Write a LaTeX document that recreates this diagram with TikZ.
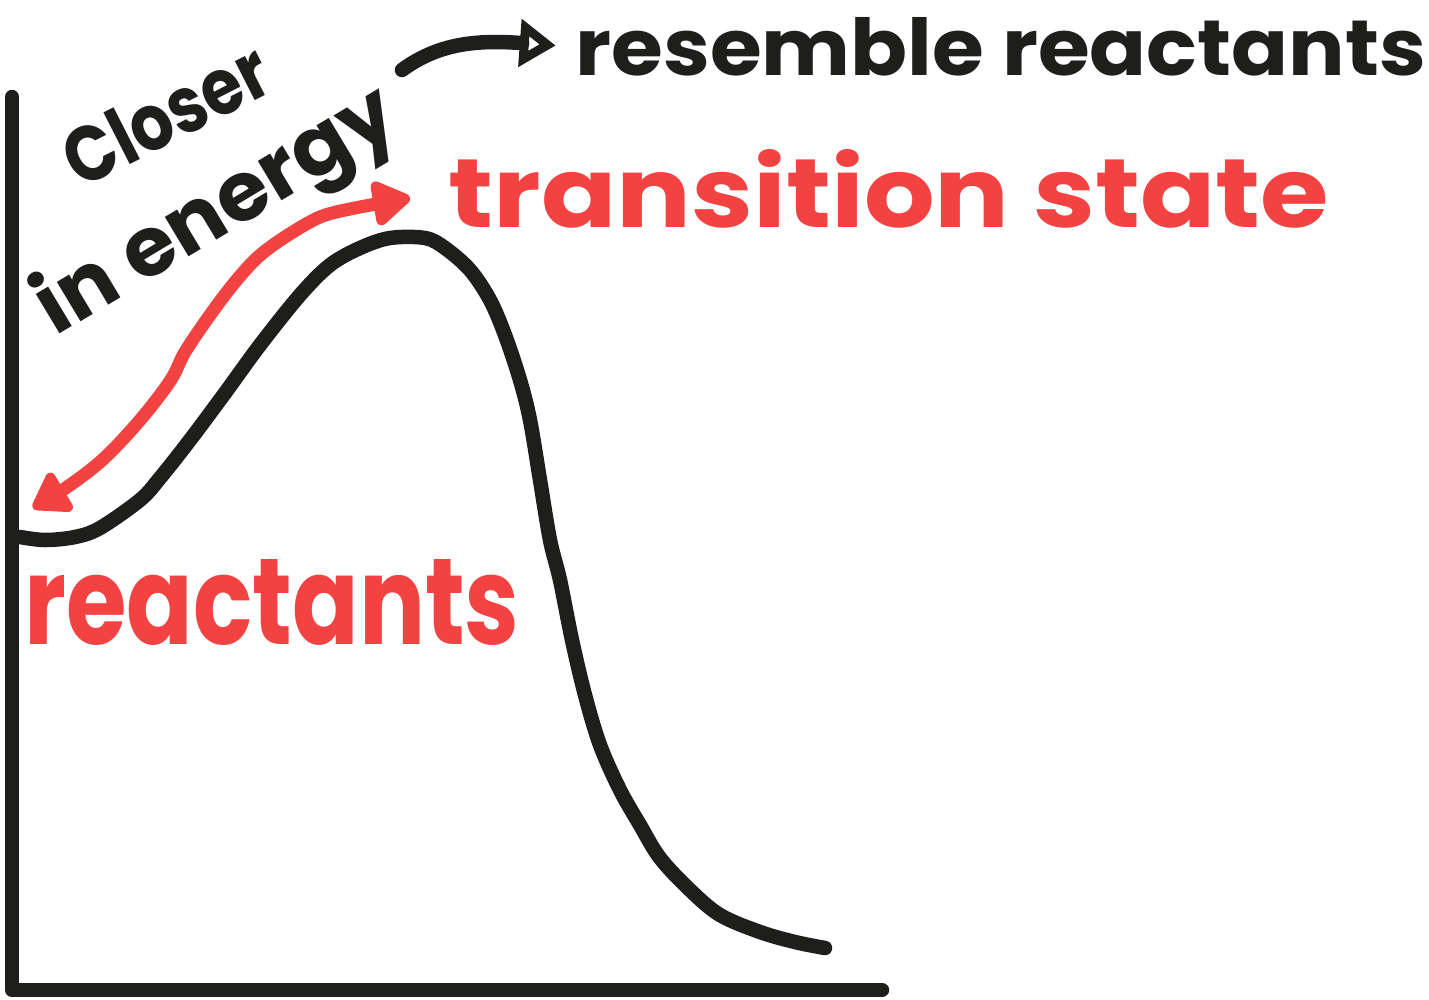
\documentclass[tikz,border=0pt]{standalone}
\usepackage{fontspec}
\setmainfont{Poppins}
\usepackage{graphicx}
\usetikzlibrary{arrows.meta}
\definecolor{ink}{HTML}{1E1E1C}
\definecolor{hred}{HTML}{F24242}
\begin{document}
\begin{tikzpicture}[x=0.01cm,y=-0.01cm, line cap=round, line join=round,
  inkline/.style={ink, line width=0.145cm},
  redline/.style={hred, line width=0.13cm},
  lab/.style={inner sep=0pt, outer sep=0pt, font=\bfseries}]
\useasboundingbox (0,0) rectangle (1429,999);

% axes
\coordinate (ytop) at (12,97);
\coordinate (orig) at (12,990);
\coordinate (xend) at (882,990);
\draw[inkline] (ytop) -- (orig) -- (xend);

% energy curve
\draw[inkline] plot[smooth, tension=0.55] coordinates {
 (20,537) (45,540) (75,537) (100,528) (140,500) (160,478) (190,440) (225,393)
 (260,345) (300,295) (330,265) (360,248) (390,238) (425,238) (445,248) (470,270)
 (490,300) (505,335) (520,380) (530,420) (540,480) (550,540) (560,580) (572,640)
 (585,695) (600,745) (620,790) (640,825) (660,858) (690,890) (720,915) (760,932)
 (795,942) (825,948)};

% red double arrow
\draw[redline, {Triangle[round,length=0.4cm,width=0.5cm]}-{Triangle[round,length=0.42cm,width=0.5cm]}]
 plot[smooth, tension=0.55] coordinates {
 (33,508) (70,485) (100,462) (125,437) (150,408) (172,378) (185,352) (210,315)
 (235,282) (258,257) (285,237) (320,217) (355,208) (410,198)};

% texts
\node[lab, text=ink, rotate=27] (closer) at (166,114) {\resizebox{2.2cm}{0.58cm}{Closer}};
\node[lab, text=ink, rotate=31] (energy) at (218,214) {\resizebox{4.05cm}{0.66cm}{in energy}};
\node[lab, text=ink] (res) at (1001,47) {\resizebox{8.5cm}{0.58cm}{resemble reactants}};
\node[lab, text=hred] (ts) at (889,189) {\resizebox{8.8cm}{0.78cm}{transition state}};
\node[lab, text=hred] (react) at (272,602) {\resizebox{4.95cm}{0.85cm}{reactants}};

% black pointer arrow
\coordinate (cs) at (402,70);
\draw[inkline, -{Triangle[open,length=0.36cm,width=0.46cm]}, shorten >=0.2cm]
 (cs) .. controls (440,42) and (480,40) .. (res.west);
\end{tikzpicture}
\end{document}
